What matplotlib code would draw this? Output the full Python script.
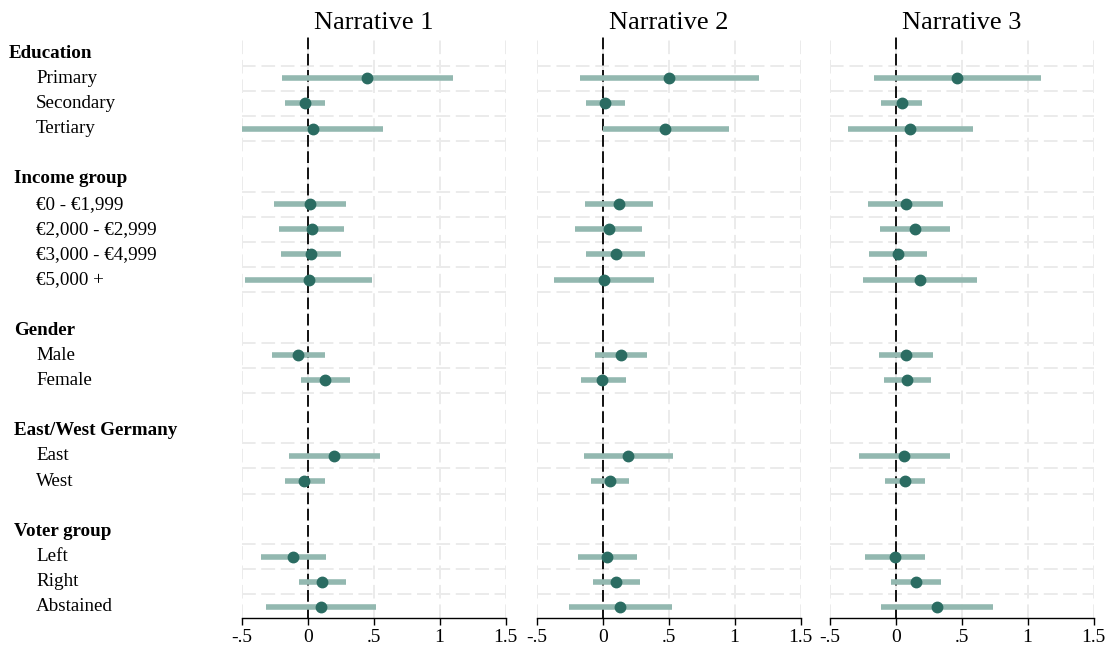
import matplotlib
matplotlib.use("Agg")
import matplotlib.pyplot as plt
import matplotlib.transforms as mtransforms

plt.rcParams['font.family'] = ['Liberation Serif', 'DejaVu Serif']

# rows: (label, is_header); None marks an empty spacer row
rows = [
    ("Education", True), ("Primary", False), ("Secondary", False), ("Tertiary", False), None,
    ("Income group", True), ("€0 - €1,999", False), ("€2,000 - €2,999", False),
    ("€3,000 - €4,999", False), ("€5,000 +", False), None,
    ("Gender", True), ("Male", False), ("Female", False), None,
    ("East/West Germany", True), ("East", False), ("West", False), None,
    ("Voter group", True), ("Left", False), ("Right", False), ("Abstained", False),
]

titles = ["Narrative 1", "Narrative 2", "Narrative 3"]

# coefficient estimates, one per non-header row, in the order above
coef_n1 = [0.45, -0.02, 0.04, 0.015, 0.03, 0.023, 0.005,
           -0.073, 0.13, 0.197, -0.028, -0.11, 0.109, 0.096]
low_n1 = [-0.20, -0.17, -0.50, -0.26, -0.22, -0.205, -0.475,
          -0.275, -0.053, -0.146, -0.174, -0.356, -0.068, -0.318]
high_n1 = [1.10, 0.13, 0.57, 0.29, 0.275, 0.25, 0.49,
           0.13, 0.32, 0.545, 0.13, 0.136, 0.293, 0.515]

coef_n2 = [0.505, 0.017, 0.475, 0.121, 0.043, 0.096, 0.01,
           0.134, -0.003, 0.192, 0.053, 0.033, 0.103, 0.129]
low_n2 = [-0.172, -0.127, 0.0, -0.134, -0.215, -0.129, -0.369,
          -0.063, -0.169, -0.147, -0.091, -0.19, -0.076, -0.26]
high_n2 = [1.184, 0.167, 0.957, 0.384, 0.298, 0.32, 0.391,
           0.336, 0.172, 0.535, 0.197, 0.26, 0.28, 0.523]

coef_n3 = [0.465, 0.043, 0.106, 0.073, 0.144, 0.018, 0.184,
           0.078, 0.088, 0.063, 0.071, -0.008, 0.152, 0.313]
low_n3 = [-0.169, -0.111, -0.366, -0.21, -0.119, -0.202, -0.247,
          -0.126, -0.091, -0.283, -0.083, -0.235, -0.04, -0.111]
high_n3 = [1.098, 0.197, 0.583, 0.359, 0.407, 0.237, 0.614,
           0.285, 0.27, 0.407, 0.222, 0.22, 0.343, 0.737]

panels = [(coef_n1, low_n1, high_n1), (coef_n2, low_n2, high_n2), (coef_n3, low_n3, high_n3)]

xticks = [-0.5, 0, 0.5, 1, 1.5]
xticklabels = ["-.5", "0", ".5", "1", "1.5"]

CI_COLOR = "#93b8b0"
PT_COLOR = "#2b6c62"
GRID_COLOR = "#ebebeb"

coef_rows = [i for i, r in enumerate(rows) if r is not None and not r[1]]

fig = plt.figure(figsize=(11.12, 6.53), dpi=100)
lefts = [0.2176, 0.4829, 0.7464]
axes = []
for k, left in enumerate(lefts):
    ax = fig.add_axes([left, 0.0536, 0.2370, 0.8913])
    coef, lo, hi = panels[k]
    ax.set_xlim(-0.5, 1.5)
    ax.set_ylim(len(rows) - 1 + 0.44, -0.68)

    # light dashed grid
    for x in xticks:
        ax.axvline(x, color=GRID_COLOR, lw=1.4, ls=(0, (7, 3)), zorder=0)
    for r in coef_rows:
        for y in (r - 0.5, r + 0.5):
            ax.axhline(y, color=GRID_COLOR, lw=1.4, ls=(0, (7, 3)), zorder=0)

    ax.axvline(0, color="black", lw=1.3, ls=(0, (6.5, 2.5)), zorder=1)

    ax.hlines(coef_rows, lo, hi, color=CI_COLOR, lw=4, zorder=2)
    ax.plot(coef, coef_rows, "o", color=PT_COLOR, ms=7.5, zorder=3)

    ax.set_title(titles[k], fontsize=19, pad=5)
    ax.set_xticks(xticks)
    ax.set_xticklabels(xticklabels, fontsize=14)
    ax.tick_params(axis="x", length=5, width=1, direction="out", pad=3)
    ax.set_yticks([])
    for side in ("top", "right", "left"):
        ax.spines[side].set_visible(False)
    ax.spines["bottom"].set_linewidth(1)
    axes.append(ax)

# row labels on the left, aligned to the first panel's rows
trans = mtransforms.blended_transform_factory(fig.transFigure, axes[0].transData)
for i, r in enumerate(rows):
    if r is None:
        continue
    label, header = r
    if header:
        x = 9 / 1112 if i == 0 else 14 / 1112
        axes[0].text(x, i, label, transform=trans, fontsize=13.7, fontweight="bold",
                     ha="left", va="center")
    else:
        axes[0].text(36 / 1112, i, label, transform=trans, fontsize=13.7,
                     ha="left", va="center")

fig.savefig("out.png", dpi=100)
